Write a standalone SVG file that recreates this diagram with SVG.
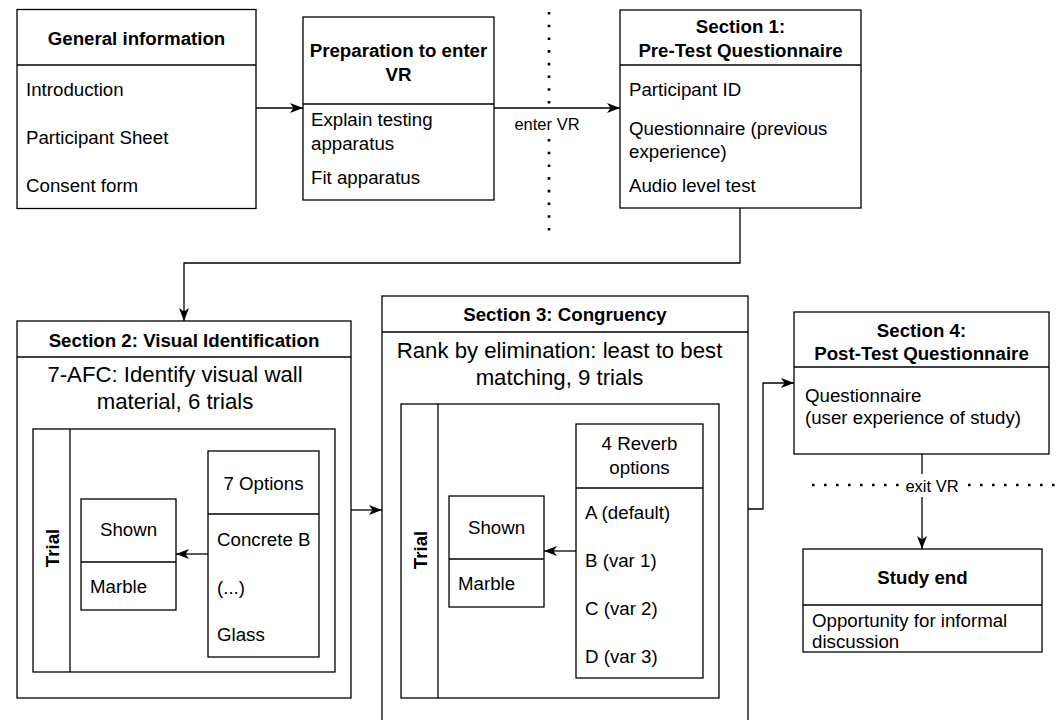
<svg xmlns="http://www.w3.org/2000/svg" width="1062" height="720" viewBox="0 0 1062 720">
<defs>
<style>
text{font-family:"Liberation Sans",Arial,sans-serif;fill:#000;}
.t{font-size:18.7px;}
.b{font-size:18.7px;font-weight:bold;}
.L{font-size:22.2px;}
.lab{font-size:16.5px;}
.c{text-anchor:middle;}
.box{fill:#fff;stroke:#000;stroke-width:1.3;}
.ln{stroke:#000;stroke-width:1.3;fill:none;}
.dot{stroke:#000;stroke-width:2.6;fill:none;}
</style>
<marker id="arr" markerUnits="userSpaceOnUse" markerWidth="14" markerHeight="11" refX="13" refY="5.5" orient="auto">
<path d="M0,0.5 L13,5.5 L0,10.5 L3.5,5.5 Z" fill="#000"/>
</marker>
</defs>
<rect width="1062" height="720" fill="#fff"/>

<g id="dividers">
<line class="dot" x1="549" y1="12" x2="549" y2="232" stroke-dasharray="2.6 10.1"/>
<line class="dot" x1="812" y1="485" x2="1062" y2="485" stroke-dasharray="2.6 9.4"/>
</g>

<g id="general">
<rect class="box" x="17" y="9.5" width="239" height="199"/>
<line class="ln" x1="17" y1="65" x2="256" y2="65"/>
<text class="b c" x="136.5" y="45">General information</text>
<text class="t" x="26" y="96">Introduction</text>
<text class="t" x="26" y="144">Participant Sheet</text>
<text class="t" x="26" y="192">Consent form</text>
</g>

<g id="preparation">
<rect class="box" x="303" y="17" width="191" height="183"/>
<line class="ln" x1="303" y1="104" x2="494" y2="104"/>
<text class="b c" x="398.5" y="57">Preparation to enter</text>
<text class="b c" x="398.5" y="81">VR</text>
<text class="t" x="311" y="126">Explain testing</text>
<text class="t" x="311" y="150">apparatus</text>
<text class="t" x="311" y="184">Fit apparatus</text>
</g>

<g id="section1">
<rect class="box" x="620" y="10" width="241" height="198"/>
<line class="ln" x1="620" y1="65" x2="861" y2="65"/>
<text class="b c" x="740.5" y="32.5">Section 1:</text>
<text class="b c" x="740.5" y="56.5">Pre-Test Questionnaire</text>
<text class="t" x="629" y="96">Participant ID</text>
<text class="t" x="629" y="135">Questionnaire (previous</text>
<text class="t" x="629" y="158">experience)</text>
<text class="t" x="629" y="192">Audio level test</text>
</g>

<g id="section2">
<rect class="box" x="17" y="321" width="334" height="377"/>
<line class="ln" x1="17" y1="357" x2="351" y2="357"/>
<text class="b c" x="184" y="347">Section 2: Visual Identification</text>
<text class="L c" x="175" y="382">7-AFC: Identify visual wall</text>
<text class="L c" x="175" y="409">material, 6 trials</text>
</g>

<g id="trial2">
<rect class="box" x="33" y="429" width="302" height="243"/>
<line class="ln" x1="70" y1="429" x2="70" y2="672"/>
<text class="b c" transform="translate(52,548) rotate(-90)" x="0" y="6.8">Trial</text>
</g>

<g id="shown2">
<rect class="box" x="81" y="499" width="95" height="111"/>
<line class="ln" x1="81" y1="562" x2="176" y2="562"/>
<text class="t c" x="128.5" y="535.5">Shown</text>
<text class="t" x="90" y="592.5">Marble</text>
</g>

<g id="options2">
<rect class="box" x="208" y="451" width="111" height="206"/>
<line class="ln" x1="208" y1="514" x2="319" y2="514"/>
<text class="t c" x="263.5" y="489.5">7 Options</text>
<text class="t" x="217" y="546">Concrete B</text>
<text class="t" x="217" y="593.5">(...)</text>
<text class="t" x="217" y="641">Glass</text>
</g>

<g id="section3">
<rect class="box" x="382" y="296" width="366" height="430"/>
<line class="ln" x1="382" y1="332" x2="748" y2="332"/>
<text class="b c" x="565" y="320.5">Section 3: Congruency</text>
<text class="L c" x="559.5" y="358">Rank by elimination: least to best</text>
<text class="L c" x="559.5" y="385">matching, 9 trials</text>
</g>

<g id="trial3">
<rect class="box" x="401" y="404" width="318" height="294"/>
<line class="ln" x1="438" y1="404" x2="438" y2="698"/>
<text class="b c" transform="translate(420,550) rotate(-90)" x="0" y="6.8">Trial</text>
</g>

<g id="shown3">
<rect class="box" x="449" y="496" width="95" height="111"/>
<line class="ln" x1="449" y1="559" x2="544" y2="559"/>
<text class="t c" x="496.5" y="533.5">Shown</text>
<text class="t" x="458" y="589.5">Marble</text>
</g>

<g id="reverb3">
<rect class="box" x="576" y="424" width="127" height="254"/>
<line class="ln" x1="576" y1="488" x2="703" y2="488"/>
<text class="t c" x="639.5" y="450">4 Reverb</text>
<text class="t c" x="639.5" y="474">options</text>
<text class="t" x="585" y="518.5">A (default)</text>
<text class="t" x="585" y="566.5">B (var 1)</text>
<text class="t" x="585" y="614.5">C (var 2)</text>
<text class="t" x="585" y="662.5">D (var 3)</text>
</g>

<g id="section4">
<rect class="box" x="794" y="312" width="255" height="142"/>
<line class="ln" x1="794" y1="367" x2="1049" y2="367"/>
<text class="b c" x="921.5" y="336.5">Section 4:</text>
<text class="b c" x="921.5" y="359.5">Post-Test Questionnaire</text>
<text class="t" x="805" y="402">Questionnaire</text>
<text class="t" x="805" y="424">(user experience of study)</text>
</g>

<g id="studyend">
<rect class="box" x="803" y="549" width="239" height="103"/>
<line class="ln" x1="803" y1="605" x2="1042" y2="605"/>
<text class="b c" x="922.5" y="583.5">Study end</text>
<text class="t" x="812" y="627">Opportunity for informal</text>
<text class="t" x="812" y="648">discussion</text>
</g>

<g id="connectors">
<path class="ln" d="M256,108 L303,108" marker-end="url(#arr)"/>
<path class="ln" d="M494,108 L620,108" marker-end="url(#arr)"/>
<rect x="511" y="112" width="72" height="25" fill="#fff"/>
<text class="lab c" x="547" y="129.5">enter VR</text>
<path class="ln" d="M740,208 L740,263 L184,263 L184,321" marker-end="url(#arr)"/>
<path class="ln" d="M208,554 L176,554" marker-end="url(#arr)"/>
<path class="ln" d="M351,510 L382,510" marker-end="url(#arr)"/>
<path class="ln" d="M576,551 L544,551" marker-end="url(#arr)"/>
<path class="ln" d="M748,509 L763,509 L763,383 L794,383" marker-end="url(#arr)"/>
<path class="ln" d="M922,454 L922,549" marker-end="url(#arr)"/>
<rect x="903" y="474" width="58" height="23" fill="#fff"/>
<text class="lab c" x="932" y="491.5">exit VR</text>
</g>
</svg>
